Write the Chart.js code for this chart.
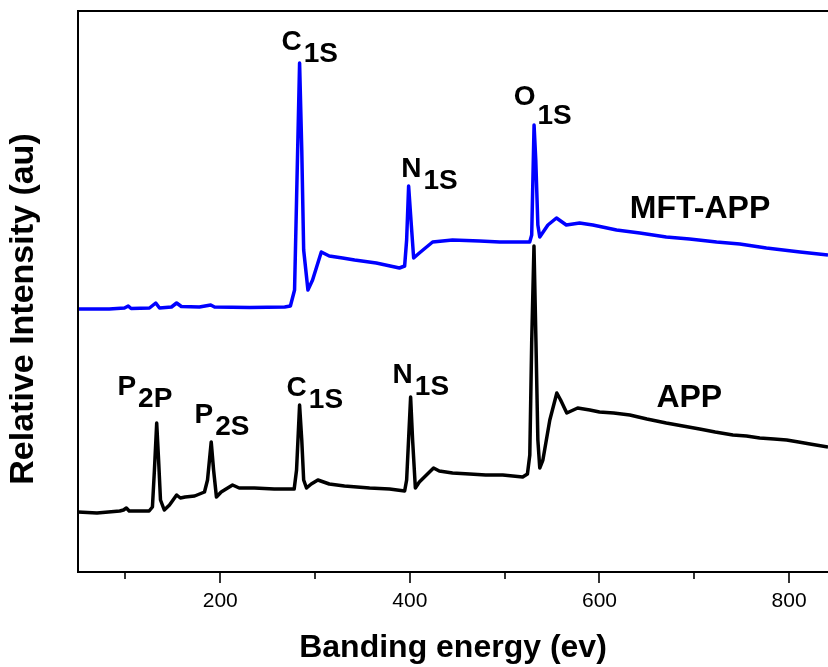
<!DOCTYPE html>
<html>
<head>
<meta charset="utf-8">
<script src="https://cdn.jsdelivr.net/npm/chart.js@4/dist/chart.umd.min.js"></script>
<style>
html,body{margin:0;padding:0;background:#fff;}
#wrap{width:828px;height:667px;position:relative;}
</style>
</head>
<body>
<div id="wrap"><canvas id="c"></canvas></div>
<script>
// APP (black) spectrum: binding energy (eV) and relative intensity (a.u.)
const appEnergy = [50,70,94,98,101,104,125,128.5,130.6,133,135,137,141,146.5,154,158,163,173,183.4,186.6,190.5,193,196,201,213,220,236,257,278,280.5,283.7,286,288,291,296,303,315,331,357.5,378.6,394.5,396.6,400.8,402.9,405.8,410,425,431,445,463,480,498,519,524,526.5,528.5,530.9,533,535,537,540.3,547.6,555,559,565.5,577,589.8,600,615,632,650,670.4,688,705.6,722,740.7,755,769,784,797.4,810,822,841];
const appIntensity = [60,59,61,62,64,61,61,65,102,149,112,72,62,67,77,74,75,76,80,92,130,102,75,80,87,84,84,83,83,102,167,132,92,84,88,92,88,86,84,83,81,92,175,132,84,90,104,101,99,98,97,97,95,98,117,230,326,230,132,104,112,152,179,172,159,164,162,160,159,157,153,149,146,143,140,137,136,134,133,132,130,128,125];

// MFT-APP (blue) spectrum
const mftEnergy = [50,83,99,103,106,125.4,132,136,148.6,154,159,178,190,194,231,268,274,278.4,280.5,283.7,286,288,292.5,297.4,306.6,315,329,341.7,364.6,389,394.5,396.6,398.7,400.8,404,410,424,445,473.6,494.8,526.4,528.5,531,532.8,535,537,545.6,554.6,565,579,593,618,642.5,670.4,695,723.5,748,776,811.5,841];
const mftIntensity = [263,263,264,266,263.5,264,269,264,265,269,265.5,265,267,265,264.5,265,266,282,372,509,422,322,282,292,320,316,314,312,309,304,306,332,386,357,314,319,330,332,331,330,330,337,447,412,347,335,347,354,347,349,347,342,339,335,333,330,328,324,320,317];

// x-axis tick values and which carry labels
const xTicks = [100,200,300,400,500,600,700,800];
const xLabeled = [200,400,600,800];

// peak annotations: [main text, subscript, energy, intensity]
const peakLabels = [
  ["C","1S",264.7,522],
  ["N","1S",391,395],
  ["O","1S",509.5,467],
  ["P","2P",91.6,177],
  ["P","2S",172.9,149],
  ["C","1S",270,176],
  ["N","1S",381.8,189]
];
const seriesLabels = [["MFT-APP",632,353.7],["APP",660,164.7]];

const FONT = "'Liberation Sans', Arial, Helvetica, sans-serif";

const decor = {
  id:'decor',
  afterDraw(chart){
    const ctx = chart.ctx, a = chart.chartArea, xs = chart.scales.x, ys = chart.scales.y;
    ctx.save();
    ctx.strokeStyle='#000'; ctx.lineWidth=2;
    ctx.beginPath();
    ctx.moveTo(a.left, a.bottom); ctx.lineTo(a.left, a.top); ctx.lineTo(a.right+2, a.top);
    ctx.stroke();
    ctx.lineWidth=1.6;
    xTicks.forEach(v=>{
      const px = Math.round(xs.getPixelForValue(v));
      const len = xLabeled.includes(v) ? 11 : 7;
      ctx.beginPath(); ctx.moveTo(px, a.bottom); ctx.lineTo(px, a.bottom+len); ctx.stroke();
    });
    ctx.fillStyle='#000';
    ctx.font = "bold 34px " + FONT;
    ctx.textAlign='center'; ctx.textBaseline='middle';
    ctx.translate(24, 309); ctx.rotate(-Math.PI/2);
    ctx.fillText("Relative Intensity (au)", 0, 0);
    ctx.restore();
    ctx.save();
    ctx.fillStyle='#000'; ctx.textBaseline='alphabetic'; ctx.textAlign='left';
    peakLabels.forEach(([m,s,e,i],k)=>{
      const px = xs.getPixelForValue(e), py = ys.getPixelForValue(i);
      ctx.font = "bold 28px " + FONT;
      ctx.fillText(m, px, py);
      const w = ctx.measureText(m).width;
      ctx.fillText(s, px + w + 2, py + (k===2 ? 19 : 12));
    });
    ctx.font = "bold 32px " + FONT;
    seriesLabels.forEach(([t,e,i])=>{
      ctx.fillText(t, xs.getPixelForValue(e), ys.getPixelForValue(i));
    });
    ctx.restore();
  }
};

new Chart(document.getElementById('c'), {
  type:'line',
  data:{
    datasets:[
      {label:'MFT-APP', data: mftEnergy.map((e,k)=>({x:e,y:mftIntensity[k]})), borderColor:'#0000ff', borderWidth:3.5, pointRadius:0, tension:0, fill:false, borderJoinStyle:'round'},
      {label:'APP', data: appEnergy.map((e,k)=>({x:e,y:appIntensity[k]})), borderColor:'#000000', borderWidth:3.5, pointRadius:0, tension:0, fill:false, borderJoinStyle:'round'}
    ]
  },
  options:{
    responsive:true, maintainAspectRatio:false, animation:false,
    layout:{padding:{left:78,right:0,top:11,bottom:0}},
    plugins:{legend:{display:false}, tooltip:{enabled:false}},
    scales:{
      x:{
        type:'linear', min:50, max:841,
        afterBuildTicks(s){ s.ticks = xTicks.map(v=>({value:v})); },
        afterFit(s){ s.height = 95; },
        grid:{display:true, drawOnChartArea:false, drawTicks:false},
        border:{display:true, color:'#000', width:2},
        ticks:{padding:17, color:'#000', font:{family:FONT, size:21}, maxRotation:0, autoSkip:false,
          callback:(v)=> xLabeled.includes(v) ? String(v) : ''},
        title:{display:true, text:'Banding energy (ev)', color:'#000', font:{family:FONT, size:32, weight:'bold'}, padding:{top:0,bottom:0}}
      },
      y:{ display:false, min:0, max:561 }
    }
  },
  plugins:[decor]
});
</script>
</body>
</html>
